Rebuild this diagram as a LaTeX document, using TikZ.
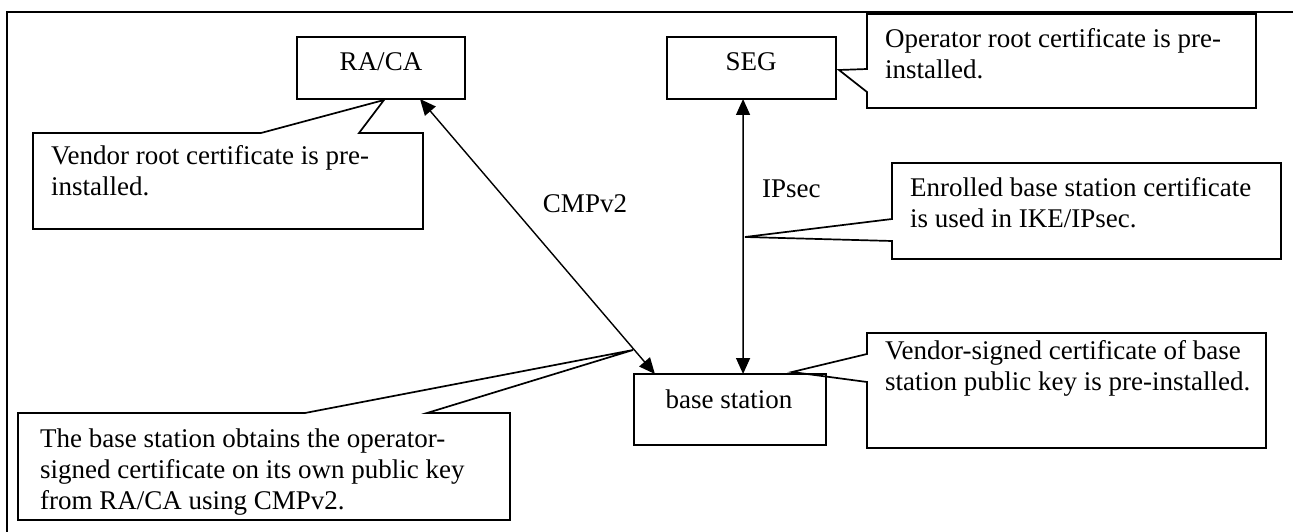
\documentclass[tikz,border=0pt]{standalone}
\usepackage{fontspec}
\setmainfont{Liberation Serif}
\usetikzlibrary{arrows.meta,calc}
\newcommand\tstrut{\rule{0pt}{20pt}}
\begin{document}
\begin{tikzpicture}[x=1pt,y=-1pt,
  txt/.style={font=\fontsize{27pt}{31pt}\selectfont, inner sep=0pt},
  para/.style={txt, anchor=north west, align=left},
  box/.style={draw, line width=1.7pt, inner sep=0pt, outer sep=0pt, anchor=north west},
  cbox/.style={draw=none, inner sep=0pt, outer sep=0pt, anchor=north west},
  coline/.style={draw, line width=1.7pt, line join=miter},
  conn/.style={draw, line width=1.4pt, {Triangle[length=16pt,width=14pt]}-{Triangle[length=16pt,width=14pt]}},
  frame/.style={line width=1.8pt}
]
\useasboundingbox (0,0) rectangle (1293,532);
% frame
\coordinate (ftr) at (1293,12);
\coordinate (ftl) at (7,12);
\coordinate (fbl) at (7,532);
\draw[frame] (ftr) -- (ftl) -- (fbl);

% main boxes
\node[box, minimum width=168pt, minimum height=62pt] (raca) at (297,37) {};
\node[txt, anchor=base] (racat) at (381,71) {RA/CA};
\node[box, minimum width=169pt, minimum height=62pt] (seg) at (667,37) {};
\node[txt, anchor=base] (segt) at (751,71) {SEG};
\node[box, minimum width=192pt, minimum height=71pt] (bs) at (634,374) {};
\node[txt, anchor=base] (bst) at (729,408) {base station};

% callout: vendor root (first baseline 164)
\node[cbox, minimum width=390pt, minimum height=96pt] (vr) at (33,133) {};
\draw[coline] (vr.north west) -- (261,133) -- (384,100) -- (359,133) -- (vr.north east)
  -- (vr.south east) -- (vr.south west) -- cycle;
\node[para] (vrt) at (51,144) {\tstrut Vendor root certificate is pre-\\installed.};

% callout: operator root (first baseline 47)
\node[cbox, minimum width=389pt, minimum height=94pt] (opr) at (867,14) {};
\draw[coline] (opr.north west) -- (867,69) -- (839,70) -- (867,92) -- (opr.south west)
  -- (opr.south east) -- (opr.north east) -- cycle;
\node[para] (oprt) at (885,27) {\tstrut Operator root certificate is pre-\\installed.};

% callout: enrolled (first baseline 196)
\node[cbox, minimum width=389pt, minimum height=96pt] (enr) at (892,163) {};
\draw[coline] (enr.north west) -- (892,219) -- (745,237) -- (892,241) -- (enr.south west)
  -- (enr.south east) -- (enr.north east) -- cycle;
\node[para] (enrt) at (910,176) {\tstrut Enrolled base station certificate\\is used in IKE/IPsec.};

% callout: vendor-signed (first baseline 359)
\node[cbox, minimum width=399pt, minimum height=115pt] (vs) at (867,333) {};
\draw[coline] (vs.north west) -- (867,354) -- (792,372) -- (867,382) -- (vs.south west)
  -- (vs.south east) -- (vs.north east) -- cycle;
\node[para] (vst) at (885,339) {\tstrut Vendor-signed certificate of base\\station public key is pre-installed.};

% callout: base station obtains (first baseline 447)
\node[cbox, minimum width=492pt, minimum height=107pt] (bc) at (18,413) {};
\draw[coline] (bc.north west) -- (305,413) -- (633,350) -- (427,413) -- (bc.north east)
  -- (bc.south east) -- (bc.south west) -- cycle;
\begin{scope}
\clip (bc.north west) rectangle ($(bc.south east)+(0,-6)$);
\node[para] (bct) at (40,427) {\tstrut The base station obtains the operator-\\signed certificate on its own public key\\from RA/CA using CMPv2.};
\end{scope}

% connectors
\coordinate (a1) at ($(raca.south west)!0.732!(raca.south east)$);
\coordinate (a2) at ($(bs.north west)!0.109!(bs.north east)$);
\draw[conn] (a1) -- (a2);
\coordinate (b1) at ($(seg.south west)!0.450!(seg.south east)$);
\coordinate (b2) at ($(bs.north west)!0.568!(bs.north east)$);
\draw[conn] (b1) -- (b2);

% connector labels
\node[txt, anchor=base] (cmplbl) at (585,212) {CMPv2};
\node[txt, anchor=base west] (ipslbl) at (762,197) {IPsec};
\end{tikzpicture}
\end{document}
